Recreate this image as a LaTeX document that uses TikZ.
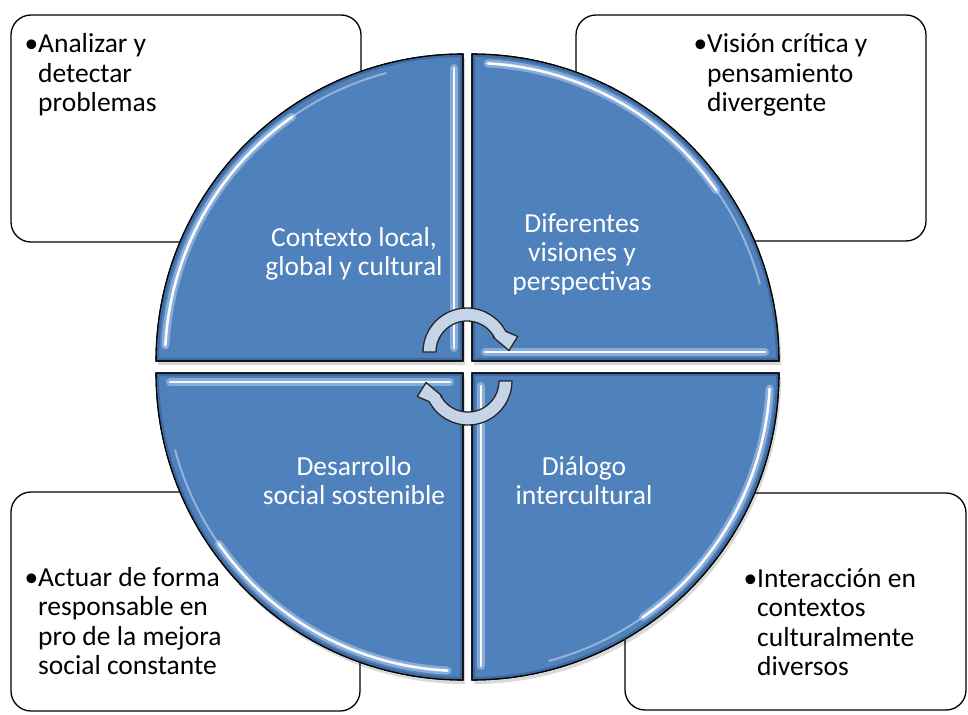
\documentclass[tikz,border=0pt]{standalone}
\usepackage{fontspec}
\setmainfont{Carlito}
\usetikzlibrary{calc}
\definecolor{qblue}{HTML}{4F81BD}
\definecolor{qdark}{HTML}{2C4D75}
\definecolor{qhl}{HTML}{CFE2FA}
\definecolor{arrowfill}{HTML}{C6D4E8}
\begin{document}
\begin{tikzpicture}[x=1pt,y=-1pt,
  box/.style={draw=black, line width=1.3pt, fill=white, rounded corners=20pt, inner sep=0pt, outer sep=0pt},
  boxtext/.style={anchor=base west, inner sep=0pt, text=black, font=\fontsize{27.5}{29.5}\selectfont},
  qtext/.style={anchor=base, inner sep=0pt, text=white, font=\fontsize{27.5}{29}\selectfont},
  quad/.style={fill=qblue, draw=black, line width=1.1pt},
  hl/.style={draw=white, line width=2.6pt, opacity=0.95, line cap=round},
  hlfade/.style={draw=white, line width=2pt, opacity=0.4, line cap=round},
  glow/.style={draw=qhl, line width=8pt, opacity=0.45, line cap=round},
  carrow/.style={fill=arrowfill, draw=black!85, line width=1.3pt, line join=round}]
\useasboundingbox (0,0) rectangle (968,714);
\fill[white] (0,0) rectangle (968,714);

% outer boxes
\node[box, minimum width=350pt, minimum height=227pt] (boxTL) at (186,128.5) {};
\node[box, minimum width=350pt, minimum height=226pt] (boxTR) at (751,128) {};
\node[box, minimum width=349pt, minimum height=219pt] (boxBL) at (185.5,601.5) {};
\node[box, minimum width=341pt, minimum height=217pt] (boxBR) at (795.5,601.5) {};

% box texts
\node[boxtext] (tTL) at (38,53) {\begin{tabular}[t]{@{}l@{}}\llap{•}Analizar y\\detectar\\problemas\end{tabular}};
\node[boxtext] (tTR) at (707,53) {\begin{tabular}[t]{@{}l@{}}\llap{•}Visión crítica y\\pensamiento\\divergente\end{tabular}};
\node[boxtext] (tBL) at (38,586) {\begin{tabular}[t]{@{}l@{}}\llap{•}Actuar de forma\\responsable en\\pro de la mejora\\social constante\end{tabular}};
\node[boxtext] (tBR) at (757,587) {\begin{tabular}[t]{@{}l@{}}\llap{•}Interacción en\\contextos\\culturalmente\\diversos\end{tabular}};

% quadrants
\def\R{307}\def\d{9}
\foreach \cx/\cy/\a/\b in {463/361/180/270, 472/361/270/360, 472/373/0/90, 463/373/90/180}{
  \fill[black, opacity=0.15] (\cx+2,\cy+4) -- ++(\a:\R) arc[start angle=\a,end angle=\b,radius=\R] -- cycle;
}
\foreach \cx/\cy/\a/\b in {463/361/180/270, 472/361/270/360, 472/373/0/90, 463/373/90/180}{
  \pgfmathsetmacro\r{\R-\d}
  \pgfmathsetmacro\aa{\a+3}
  \pgfmathsetmacro\ab{\a+55}
  \pgfmathsetmacro\ac{\a+75}
  \pgfmathsetmacro\s{\d+4}
  \pgfmathsetmacro\L{\R-\d-5}
  \path[quad] (\cx,\cy) -- ++(\a:\R) arc[start angle=\a,end angle=\b,radius=\R] -- cycle;
  \begin{scope}
    \clip (\cx,\cy) -- ++(\a:\R) arc[start angle=\a,end angle=\b,radius=\R] -- cycle;
    \draw[qdark, line width=6pt, opacity=0.45] (\cx,\cy) -- ++(\a:\R) arc[start angle=\a,end angle=\b,radius=\R] -- cycle;
  \end{scope}
  \draw[glow] (\cx,\cy) ++(\aa:\r) arc[start angle=\aa,end angle=\ab,radius=\r];
  \draw[hl] (\cx,\cy) ++(\aa:\r) arc[start angle=\aa,end angle=\ab,radius=\r];
  \draw[hlfade] (\cx,\cy) ++(\ab:\r) arc[start angle=\ab,end angle=\ac,radius=\r];
  \draw[glow] ($(\cx,\cy)+(\a:\d)+(\b:\s)$) -- ($(\cx,\cy)+(\a:\d)+(\b:\L)$);
  \draw[hl] ($(\cx,\cy)+(\a:\d)+(\b:\s)$) -- ($(\cx,\cy)+(\a:\d)+(\b:\L)$);
  \draw[black, line width=1.1pt] (\cx,\cy) -- ++(\a:\R) arc[start angle=\a,end angle=\b,radius=\R] -- cycle;
}

% quadrant texts
\node[qtext] (qTL) at (354,246) {\begin{tabular}[t]{@{}c@{}}Contexto local,\\global y cultural\end{tabular}};
\node[qtext] (qTR) at (582,232) {\begin{tabular}[t]{@{}c@{}}Diferentes\\visiones y\\perspectivas\end{tabular}};
\node[qtext] (qBL) at (354,475) {\begin{tabular}[t]{@{}c@{}}Desarrollo\\social sostenible\end{tabular}};
\node[qtext] (qBR) at (584,475) {\begin{tabular}[t]{@{}c@{}}Diálogo\\intercultural\end{tabular}};

% circular arrows
\coordinate (ca) at (467,352);
\coordinate (cb) at (468,381);
\draw[carrow] ($(ca)+(180:44)$) arc[start angle=180,end angle=332,radius=44]
  -- ($(ca)+(343:53)$) -- ($(ca)+(358:42)$) -- ($(ca)+(330:30)$) -- ($(ca)+(332:31)$)
  arc[start angle=332,end angle=180,radius=31] -- cycle;
\draw[carrow] ($(cb)+(0:44)$) arc[start angle=0,end angle=152,radius=44]
  -- ($(cb)+(163:53)$) -- ($(cb)+(178:42)$) -- ($(cb)+(150:30)$) -- ($(cb)+(152:31)$)
  arc[start angle=152,end angle=0,radius=31] -- cycle;
\end{tikzpicture}
\end{document}
